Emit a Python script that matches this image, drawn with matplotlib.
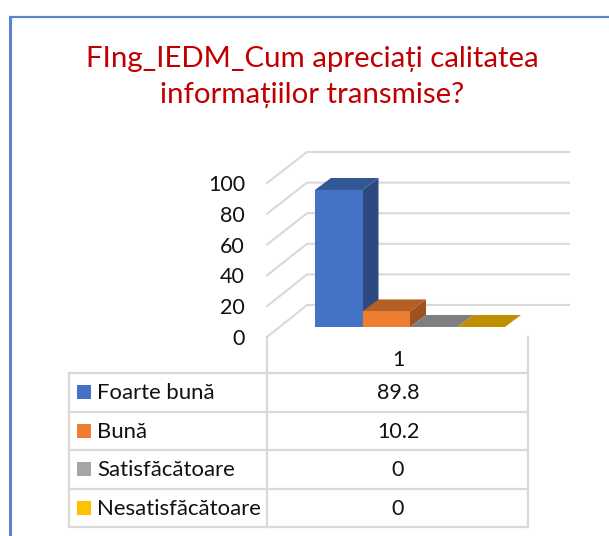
# -*- coding: utf-8 -*-
import matplotlib
matplotlib.use('Agg')
import matplotlib.pyplot as plt
from matplotlib.patches import Polygon, Rectangle

#%% data
title_lines = ['FIng_IEDM_Cum apreciați calitatea', 'informațiilor transmise?']
categories = ['Foarte bună', 'Bună', 'Satisfăcătoare', 'Nesatisfăcătoare']
values = [89.8, 10.2, 0, 0]
value_labels = ['89.8', '10.2', '0', '0']
column_label = '1'
y_ticks = [0, 20, 40, 60, 80, 100]

front_colors = ['#4472C4', '#ED7D31', '#A5A5A5', '#FFC000']
side_colors = ['#2C4A80', '#9C5320', '#6E6E6E', '#A67C00']
top_colors = ['#335694', '#B55F25', '#7F7F7F', '#BF9000']

#%% layout in pixels
W, H = 609, 536
unit = 1.526          # pixels per value
bar_w = 47.5
bar_left = 315
bar_base = 327
depth_x, depth_y = 16, 12
grid = '#D9D9D9'
text_col = '#111111'
plt.rcParams['font.family'] = ['Lato', 'DejaVu Sans']

fig = plt.figure(figsize=(W / 100, H / 100), dpi=100)

# pixel axes for the frame, walls and table
bg = fig.add_axes([0, 0, 1, 1])
bg.set_xlim(0, W)
bg.set_ylim(H, 0)
bg.axis('off')

bg.plot([10, 10], [16, H], color='#5B84CC', lw=2.2, solid_capstyle='butt')
bg.plot([9, W], [16.5, 16.5], color='#5B84CC', lw=1.6, solid_capstyle='butt')

bg.text(312, 59, title_lines[0], color='#C00000', fontsize=21.2, ha='center', va='center')
bg.text(312, 95, title_lines[1], color='#C00000', fontsize=21.2, ha='center', va='center')

# walls and gridlines
for t in y_ticks:
    y_front = 337 - t * 1.54
    y_back = 305 - t * 1.53
    bg.plot([267, 307, 569], [y_front, y_back, y_back], color=grid, lw=1.5)
    bg.text(245, y_front + 2, str(t), color=text_col, fontsize=15.5, ha='right', va='center')

# table
rows = [373, 411.5, 450, 488.5, 527]
for y in rows:
    bg.plot([69, 528], [y, y], color=grid, lw=1.6)
bg.plot([69, 69], [373, 527], color=grid, lw=1.6)
bg.plot([267, 267], [337, 527], color=grid, lw=1.6)
bg.plot([528, 528], [337, 527], color=grid, lw=1.6)
bg.text(398, 360.5, column_label, color=text_col, fontsize=15.5, ha='center', va='center')
for i, name in enumerate(categories):
    yc = (rows[i] + rows[i + 1]) / 2
    bg.add_patch(Rectangle((77, yc - 7), 14, 14, color=front_colors[i], lw=0))
    bg.text(97, yc + 1, name, color=text_col, fontsize=15.9, ha='left', va='center')
    bg.text(398, yc + 1, value_labels[i], color=text_col, fontsize=15.5, ha='center', va='center')

# data axes: one category = one bar width, y in chart values
ax = fig.add_axes([0, 0, 1, 1])
ax.patch.set_alpha(0)
ax.set_xlim(-0.5 - bar_left / bar_w, -0.5 + (W - bar_left) / bar_w)
ax.set_ylim((bar_base - H) / unit, bar_base / unit)
ax.axis('off')

dx = depth_x / bar_w
dy = depth_y / unit
x_pos = list(range(len(values)))

# left to right, so each bar sits in front of the side of the one before it
for i in x_pos:
    v = values[i]
    left, right = i - 0.5, i + 0.5
    ax.add_patch(Polygon([(right, 0), (right + dx, dy), (right + dx, v + dy), (right, v)],
                         facecolor=side_colors[i], lw=0, zorder=2 + i))
    ax.add_patch(Polygon([(left, v), (left + dx, v + dy), (right + dx, v + dy), (right, v)],
                         facecolor=top_colors[i], lw=0, zorder=2 + i))
    ax.bar(i, v, width=1, color=front_colors[i], lw=0, zorder=2 + i)

fig.savefig('out.png', dpi=100)
